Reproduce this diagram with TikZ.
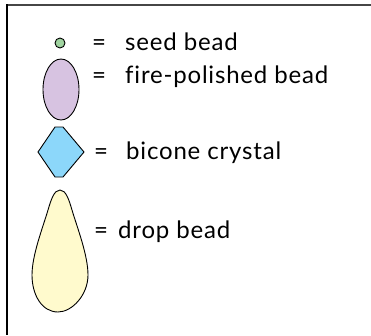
\documentclass[tikz,border=0pt]{standalone}
\usepackage{fontspec}
\setmainfont{Lato}
\newfontfamily\labfont[LetterSpace=3.4, Ligatures=NoCommon]{Lato}
\definecolor{seedgreen}{RGB}{160,212,160}
\definecolor{firepurple}{RGB}{215,195,225}
\definecolor{biconeblue}{RGB}{140,215,250}
\definecolor{dropyellow}{RGB}{255,250,205}
\definecolor{framegray}{RGB}{70,70,70}
\tikzset{
  beadline/.style={draw=black, line width=0.9pt},
  label/.style={anchor=base west, inner sep=0pt, font=\labfont\fontsize{24}{28}\selectfont},
}
\begin{document}
\begin{tikzpicture}[x=1pt, y=-1pt]
\useasboundingbox (0,0) rectangle (371,335);
% frame
\draw[framegray, line width=1.6pt] (7,4.8) -- (371,4.8);
\draw[black, line width=1.6pt] (7,4) -- (7,335);
% seed bead
\path[beadline, fill=seedgreen] (60,43) circle[radius=5];
\node[label] (eq1) at (92,50) {=};
\node[label] (t1) at (125,50) {seed bead};
% fire-polished bead
\path[beadline, fill=firepurple] (61,89.5) ellipse[x radius=18, y radius=30.5];
\node[label] (eq2) at (92,83) {=};
\node[label] (t2) at (125,83) {fire-polished bead};
% bicone crystal
\path[beadline, fill=biconeblue] (38,152) -- (55,127) -- (63,127) -- (84,152) -- (63,177) -- (55,177) -- cycle;
\node[label] (eq3) at (94,159) {=};
\node[label] (t3) at (126,159) {bicone crystal};
% drop bead
\path[beadline, fill=dropyellow] (60,190) .. controls (66,190) and (69,200) .. (72,210)
  .. controls (77,227) and (88,255) .. (88,275)
  .. controls (88,295) and (72,312) .. (58,312)
  .. controls (42,312) and (32,295) .. (32,275)
  .. controls (32,255) and (43,227) .. (48,210)
  .. controls (51,200) and (54,190) .. (60,190) -- cycle;
\node[label] (eq4) at (94,238) {=};
\node[label] (t4) at (118,238) {drop bead};
\end{tikzpicture}
\end{document}
